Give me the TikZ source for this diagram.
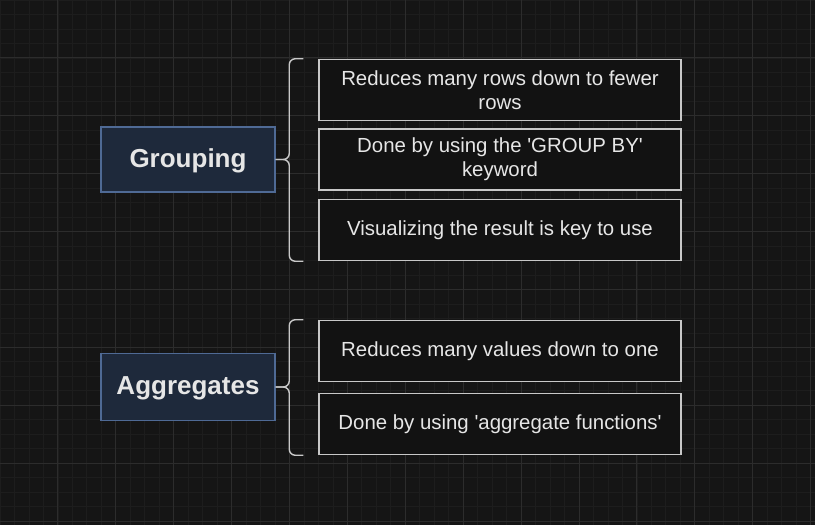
\documentclass[tikz,border=0pt]{standalone}
\usepackage{fontspec}
\setmainfont{Liberation Sans}
\definecolor{bgcol}{HTML}{151515}
\definecolor{minorcol}{HTML}{1D1D1D}
\definecolor{majorcol}{HTML}{2C2C2C}
\definecolor{headfill}{HTML}{1E293B}
\definecolor{headline}{HTML}{4F6A95}
\definecolor{itemfill}{HTML}{121212}
\definecolor{itemline}{HTML}{C8C8C8}
\definecolor{textcol}{HTML}{E6E6E6}
\tikzset{
  head/.style={draw=headline,fill=headfill,line width=1.3pt,minimum width=174pt,
    text=textcol,text depth=2pt,font=\fontsize{26}{30}\selectfont\bfseries},
  item/.style={draw=itemline,fill=itemfill,line width=1.5pt,minimum width=362pt,
    minimum height=61pt,align=center,text=textcol,font=\fontsize{20.4}{24}\selectfont},
  bracket/.style={draw=itemline,line width=1.4pt,rounded corners=6pt}
}
\begin{document}
\begin{tikzpicture}[x=1pt,y=-1pt]
  \useasboundingbox (0,0) rectangle (815,525);
  \fill[bgcol] (0,0) rectangle (815,525);
  % grid
  \foreach \i in {0,...,56} \draw[minorcol,line width=0.8pt] (\i*14.475,0) -- (\i*14.475,525);
  \foreach \i in {0,...,36} \draw[minorcol,line width=0.8pt] (0,\i*14.475) -- (815,\i*14.475);
  \foreach \i in {1,...,14} \draw[majorcol,line width=1pt] (\i*57.9,0) -- (\i*57.9,525);
  \foreach \i in {1,...,9} \draw[majorcol,line width=1pt] (0,\i*57.9) -- (815,\i*57.9);

  % grouping
  \node[head,minimum height=65pt] (grp) at (188,159.5) {Grouping};
  \node[item] (r1) at (500,90) {Reduces many rows down to fewer\\rows};
  \node[item] (r2) at (500,159.5) {Done by using the \textquotesingle GROUP BY\textquotesingle\\keyword};
  \node[item] (r3) at (500,230) {Visualizing the result is key to use};
  \draw[bracket] ([xshift=-15pt]r1.north west) -- ++(-14,0) |- (grp.east);
  \draw[bracket] (grp.east) -| ([xshift=-29pt]r3.south west) -- ([xshift=-15pt]r3.south west);

  % aggregates
  \node[head,minimum height=67pt] (agg) at (188,387) {Aggregates};
  \node[item] (a1) at (500,351) {Reduces many values down to one};
  \node[item] (a2) at (500,424) {Done by using \textquotesingle aggregate functions\textquotesingle};
  \draw[bracket] ([xshift=-15pt]a1.north west) -- ++(-14,0) |- (agg.east);
  \draw[bracket] (agg.east) -| ([xshift=-29pt]a2.south west) -- ([xshift=-15pt]a2.south west);
\end{tikzpicture}
\end{document}
